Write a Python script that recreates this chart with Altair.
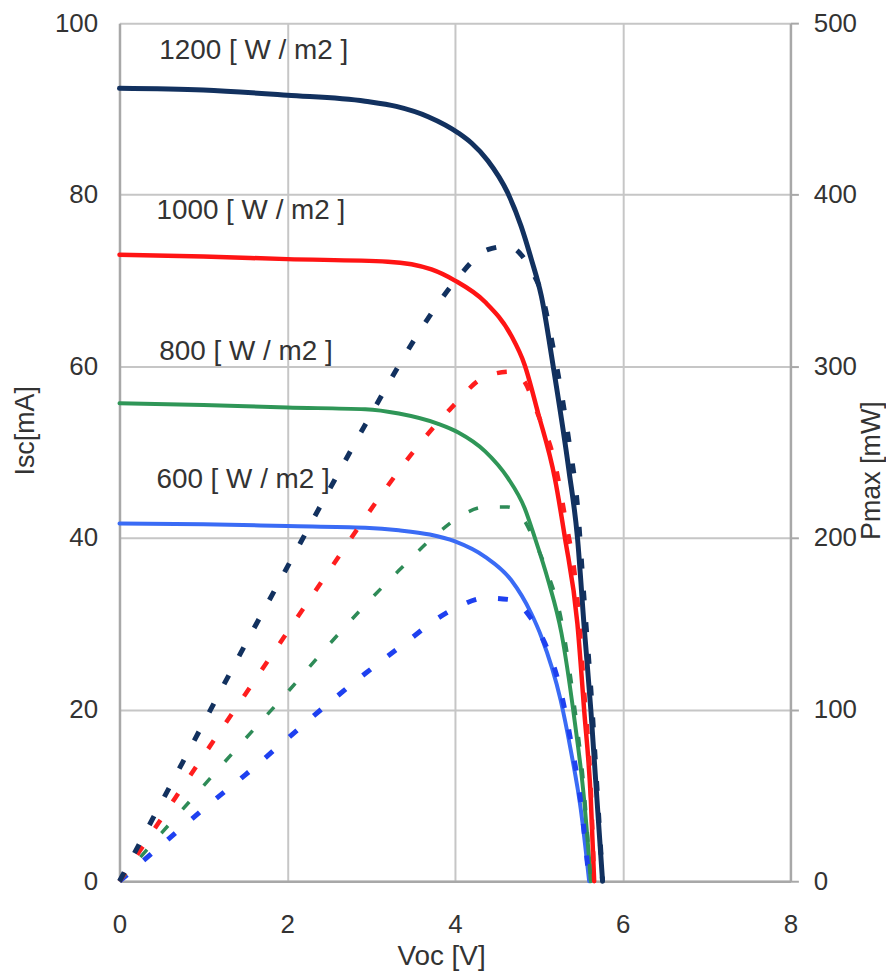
import altair as alt
import pandas as pd

# ---- data ----
series = ["600", "800", "1000", "1200"]

# I-V curves (Voc [V], Isc [mA])
v_1200 = [0, 1, 2, 2.93, 3.3, 3.68, 4.04, 4.2, 4.39, 4.63, 4.79, 4.91, 5.03, 5.17, 5.36, 5.46, 5.54, 5.62, 5.68, 5.76]
i_1200 = [92.4, 92.2, 91.6, 90.9, 90.3, 89.1, 87.2, 86.0, 84.0, 80.2, 76.3, 72.5, 68.2, 60.1, 47.8, 40.1, 29.7, 20.0, 11.4, 0]

v_1000 = [0, 1, 2, 3.2, 3.72, 4.0, 4.36, 4.67, 4.83, 4.99, 5.19, 5.31, 5.46, 5.54, 5.62, 5.66]
i_1000 = [73.0, 72.8, 72.5, 72.2, 71.3, 70.0, 67.5, 63.6, 60.2, 54.6, 47.0, 40.1, 30.0, 20.0, 9.5, 0]

v_800 = [0, 1, 2, 2.93, 3.33, 3.80, 4.04, 4.36, 4.63, 4.83, 4.95, 5.11, 5.27, 5.42, 5.54, 5.62]
i_800 = [55.7, 55.5, 55.2, 55.0, 54.5, 53.3, 52.3, 50.1, 47.0, 43.5, 40.1, 35.1, 28.9, 19.2, 9.5, 0]

v_600 = [0, 1, 2, 2.93, 3.33, 3.7, 4.0, 4.36, 4.67, 4.91, 5.03, 5.26, 5.38, 5.50, 5.60]
i_600 = [41.7, 41.6, 41.4, 41.2, 40.9, 40.4, 39.6, 37.8, 35.1, 31.2, 28.5, 21.1, 15.3, 8.4, 0]

# P-V curves (Voc [V], Pmax [mW])
pv_1200 = [0, 0.5, 1, 1.5, 2, 2.5, 2.93, 3.68, 4.04, 4.39, 4.63, 4.79, 4.91, 5.03, 5.17, 5.36, 5.46, 5.54, 5.62, 5.68, 5.76]
p_1200 = [0, 46, 92, 138, 183, 228, 266, 328, 352, 368, 370, 365, 356, 343, 311, 256, 219, 164, 112, 65, 0]

pv_1000 = [0, 0.5, 1, 1.5, 2, 2.5, 3.09, 3.5, 3.96, 4.36, 4.67, 4.83, 4.99, 5.19, 5.31, 5.46, 5.54, 5.62, 5.66]
p_1000 = [0, 36.5, 73, 109, 145, 181, 223, 250, 276, 294, 297, 291, 272, 244, 213, 164, 111, 53, 0]

pv_800 = [0, 0.5, 1, 1.5, 2, 2.5, 2.93, 3.33, 3.80, 4.04, 4.36, 4.63, 4.83, 4.95, 5.11, 5.27, 5.42, 5.54, 5.62]
p_800 = [0, 28, 55.5, 83, 110, 138, 161, 181, 203, 212, 218, 218, 210, 198, 179, 152, 104, 53, 0]

pv_600 = [0, 0.5, 1, 1.5, 2, 2.5, 2.93, 3.33, 4.0, 4.36, 4.67, 4.91, 5.03, 5.26, 5.38, 5.50, 5.60]
p_600 = [0, 21, 42, 62, 83, 104, 121, 136, 159, 165, 164, 153, 143, 111, 82, 46, 0]

# annotation labels
label_text = ["1200 [ W / m2 ]", "1000 [ W / m2 ]", "800 [ W / m2 ]", "600 [ W / m2 ]"]
label_v = [0.475, 0.44, 0.475, 0.44]
label_i = [96.7, 78.1, 61.7, 46.8]

x_ticks = [0, 2, 4, 6, 8]
y_ticks = [0, 20, 40, 60, 80, 100]
p_ticks = [0, 100, 200, 300, 400, 500]

# styles per series (not data)
solid_color = {"600": "#3A6BF5", "800": "#2F9657", "1000": "#FF1414", "1200": "#12315F"}
solid_width = {"600": 4, "800": 4, "1000": 4.5, "1200": 5}
dash_color = {"600": "#1E40F0", "800": "#2E8B57", "1000": "#FF1E1E", "1200": "#12315F"}
dash_width = {"600": 5, "800": 3.5, "1000": 4.5, "1200": 5}

# ---- build tables ----
iv_rows = []
for s, vs, ys in [("600", v_600, i_600), ("800", v_800, i_800),
                  ("1000", v_1000, i_1000), ("1200", v_1200, i_1200)]:
    for k, (v, y) in enumerate(zip(vs, ys)):
        iv_rows.append({"series": s, "V": v, "I": y, "k": k,
                        "c": solid_color[s], "w": solid_width[s]})
iv = pd.DataFrame(iv_rows)

pv_rows = []
for s, vs, ps in [("600", pv_600, p_600), ("800", pv_800, p_800),
                  ("1000", pv_1000, p_1000), ("1200", pv_1200, p_1200)]:
    for k, (v, p) in enumerate(zip(vs, ps)):
        pv_rows.append({"series": s, "V": v, "P": p, "k": k,
                        "c": dash_color[s], "w": dash_width[s]})
pv = pd.DataFrame(pv_rows)

labels = pd.DataFrame({"text": label_text, "V": label_v, "I": label_i})

TXT = "#333333"
GRID = "#C6C6C6"
AX = "#A8A8A8"
FONT = "Liberation Sans"

x_enc = alt.X("V:Q", scale=alt.Scale(domain=[0, 8], nice=False),
              axis=alt.Axis(values=x_ticks, format="d", title="Voc [V]",
                            grid=True, gridColor=GRID, gridWidth=2,
                            domainColor=AX, domainWidth=2.5,
                            ticks=False, tickSize=0, labelPadding=30,
                            labelFlush=False,
                            labelFontSize=26, labelColor=TXT, labelFont=FONT,
                            titleFontSize=28, titleColor=TXT, titleFont=FONT,
                            titleFontWeight="normal",
                            titleX=323, titleY=76, titleBaseline="middle",
                            titleAlign="center"))

y_left = alt.Y("I:Q", scale=alt.Scale(domain=[0, 100], nice=False),
               axis=alt.Axis(values=y_ticks, title="Isc[mA]",
                             grid=True, gridColor=GRID, gridWidth=2,
                             domainColor=AX, domainWidth=2.5,
                             ticks=False, tickSize=0, labelPadding=22,
                             labelFlush=False,
                             labelFontSize=26, labelColor=TXT, labelFont=FONT,
                             titleFontSize=27, titleColor=TXT, titleFont=FONT,
                             titleFontWeight="normal", titleAngle=270,
                             titleX=-94, titleY=409, titleBaseline="middle",
                             titleAlign="center"))

solid = alt.Chart(iv).mark_line(interpolate="monotone", strokeCap="round").encode(
    x=x_enc,
    y=y_left,
    detail="series:N",
    color=alt.Color("c:N", scale=None),
    strokeWidth=alt.StrokeWidth("w:Q", scale=None),
    order="k:Q",
)

text = alt.Chart(labels).mark_text(align="left", baseline="middle", fontSize=28,
                                   font=FONT, color=TXT).encode(
    x=alt.X("V:Q"), y=alt.Y("I:Q"), text="text:N")

left = alt.layer(solid, text)

dashed = alt.Chart(pv).mark_line(interpolate="monotone", strokeDash=[10, 22]).encode(
    x=alt.X("V:Q"),
    y=alt.Y("P:Q", scale=alt.Scale(domain=[0, 500], nice=False),
            axis=alt.Axis(values=p_ticks, orient="right", title="Pmax [mW]",
                          grid=False, domainColor=AX, domainWidth=2.5,
                          ticks=True, tickSize=8, tickColor=AX, tickWidth=2,
                          labelPadding=15, labelFlush=False,
                          labelFontSize=26, labelColor=TXT, labelFont=FONT,
                          titleFontSize=27, titleColor=TXT, titleFont=FONT,
                          titleFontWeight="normal", titleAngle=270,
                          titleX=81, titleY=449, titleBaseline="middle",
                          titleAlign="center")),
    detail="series:N",
    color=alt.Color("c:N", scale=None),
    strokeWidth=alt.StrokeWidth("w:Q", scale=None),
    order="k:Q",
)

chart = alt.layer(left, dashed).resolve_scale(
    y="independent"
).properties(
    width=674, height=862,
    autosize=alt.AutoSizeParams(type="none"),
    padding={"left": 112, "top": 13, "right": 96, "bottom": 97},
    background="white",
).configure_view(stroke=None)

chart.save("out.html", embed_options={"renderer": "svg", "actions": False})
